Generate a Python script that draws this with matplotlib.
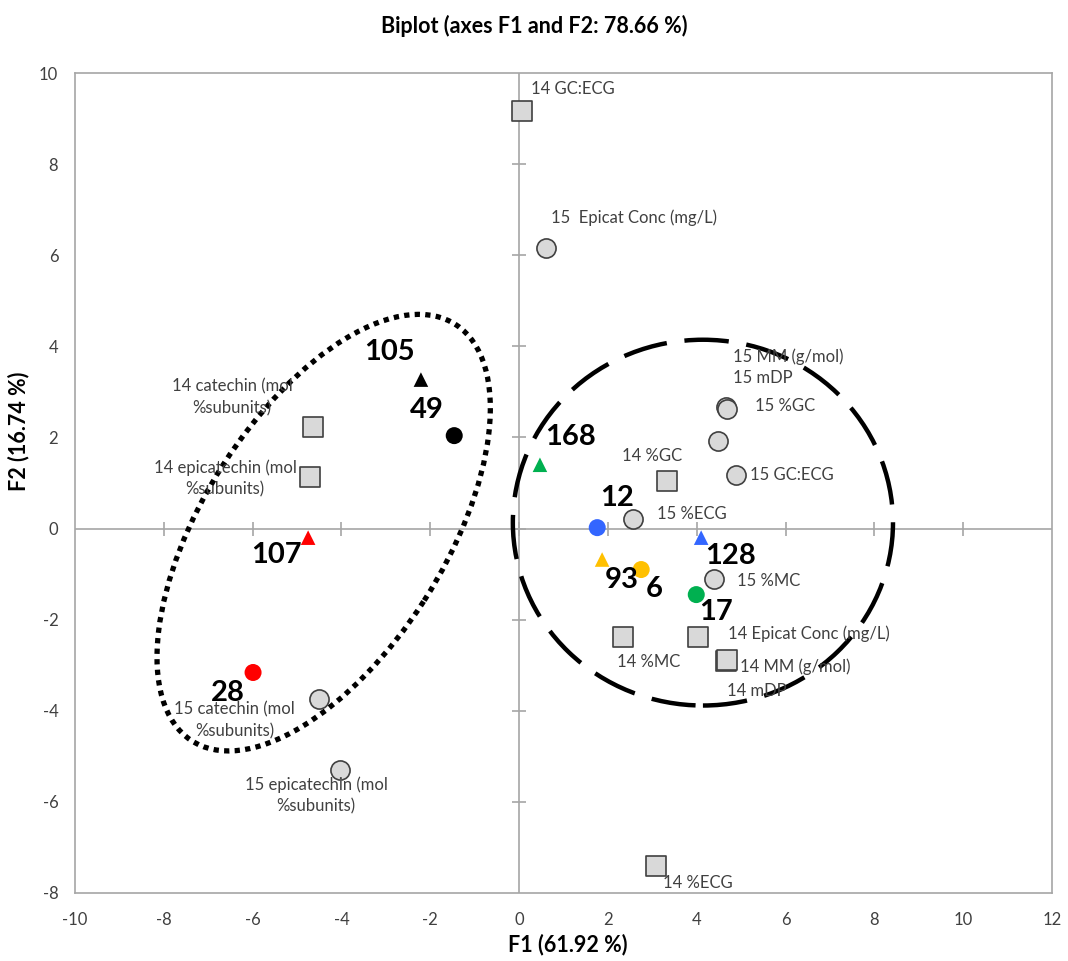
import matplotlib.pyplot as plt
from matplotlib.patches import Ellipse
import numpy as np

plt.rcParams['font.family'] = ['Lato', 'DejaVu Sans']

# variables, 2014 season (squares)
var14_names = ['14 GC:ECG', '14 catechin (mol\n%subunits)', '14 epicatechin (mol\n%subunits)',
               '14 %GC', '14 %MC', '14 Epicat Conc (mg/L)', '14 MM (g/mol)', '14 mDP', '14 %ECG']
var14_x = [0.07, -4.64, -4.71, 3.33, 2.34, 4.03, 4.66, 4.69, 3.09]
var14_y = [9.17, 2.24, 1.14, 1.05, -2.39, -2.39, -2.91, -2.88, -7.41]

# variables, 2015 season (circles)
var15_names = ['15  Epicat Conc (mg/L)', '15 MM (g/mol)', '15 mDP', '15 %GC', '15 GC:ECG',
               '15 %ECG', '15 %MC', '15 catechin (mol\n%subunits)', '15 epicatechin (mol\n%subunits)']
var15_x = [0.61, 4.66, 4.68, 4.48, 4.89, 2.57, 4.39, -4.50, -4.03]
var15_y = [6.16, 2.67, 2.63, 1.93, 1.18, 0.22, -1.10, -3.75, -5.29]

# observations
obs_names = ['105', '49', '168', '12', '128', '93', '6', '17', '107', '28']
obs_x = [-2.21, -1.46, 0.47, 1.76, 4.10, 1.87, 2.75, 3.99, -4.75, -5.99]
obs_y = [3.27, 2.04, 1.40, 0.02, -0.20, -0.68, -0.90, -1.45, -0.20, -3.16]
obs_marker = ['^', 'o', '^', 'o', '^', '^', 'o', 'o', '^', 'o']
obs_color = ['black', 'black', '#00B050', '#3366FF', '#3366FF', '#FFC000', '#FFC000',
             '#00B050', '#FF0000', '#FF0000']

# label anchor positions
var14_lab = [(0.27, 9.65, 'left'), (-6.46, 2.89, 'center'), (-6.62, 1.10, 'center'),
             (2.32, 1.60, 'left'), (2.21, -2.92, 'left'), (4.71, -2.30, 'left'),
             (4.98, -3.03, 'left'), (4.68, -3.57, 'left'), (3.24, -7.79, 'left')]
var15_lab = [(0.72, 6.82, 'left'), (4.82, 3.77, 'left'), (4.82, 3.31, 'left'),
             (5.32, 2.68, 'left'), (5.20, 1.18, 'left'), (3.11, 0.33, 'left'),
             (4.91, -1.16, 'left'), (-6.40, -4.21, 'center'), (-4.57, -5.86, 'center')]
obs_lab = [(-2.91, 3.88), (-2.07, 2.61), (1.15, 2.02), (2.21, 0.68), (4.77, -0.61),
           (2.32, -1.12), (3.04, -1.32), (4.44, -1.84), (-5.47, -0.59), (-6.55, -3.60)]

fig = plt.figure(figsize=(10.68, 9.61), dpi=100)
ax = fig.add_axes([0.0702, 0.0708, 0.9148, 0.8532])
ax.set_xlim(-10, 12)
ax.set_ylim(-8, 10)

for s in ax.spines.values():
    s.set_color('#A6A6A6')
    s.set_linewidth(1.2)

xt = np.arange(-10, 13, 2)
yt = np.arange(-8, 11, 2)
ax.set_xticks(xt)
ax.set_yticks(yt)
ax.set_xticklabels([str(v) for v in xt])
ax.set_yticklabels([str(v) for v in yt])
ax.tick_params(length=0, labelsize=12, colors='#404040', pad=14)
ax.tick_params(axis='y', pad=12)

# zero axes with cross ticks
ax.axhline(0, color='#A6A6A6', lw=1.2, zorder=1)
ax.axvline(0, color='#A6A6A6', lw=1.2, zorder=1)
ax.plot(xt[1:-1], np.zeros(len(xt) - 2), ls='none', marker='|', ms=10, mew=1.2, color='#A6A6A6', zorder=1)
ax.plot(np.zeros(len(yt) - 2), yt[1:-1], ls='none', marker='_', ms=10, mew=1.2, color='#A6A6A6', zorder=1)

# groupings
ax.add_patch(Ellipse((-4.40, -0.09), 10.9, 5.42, angle=56.7, fill=False, ec='black',
                     lw=3.8, ls=(0, (1, 1)), zorder=2))
ax.add_patch(Ellipse((4.14, 0.13), 8.56, 8.03, fill=False, ec='black',
                     lw=3.2, ls=(0, (10, 4)), zorder=2))

ax.scatter(var14_x, var14_y, marker='s', s=190, c='#D9D9D9', edgecolors='#404040', linewidths=1.2, zorder=3)
ax.scatter(var15_x, var15_y, marker='o', s=190, c='#D9D9D9', edgecolors='#404040', linewidths=1.2, zorder=3)

for x, y, m, c in zip(obs_x, obs_y, obs_marker, obs_color):
    ax.scatter(x, y, marker=m, s=150 if m == 'o' else 110, c=c, edgecolors='none', zorder=4)

for name, (lx, ly, ha) in zip(var14_names + var15_names, var14_lab + var15_lab):
    ax.text(lx, ly, name, ha=ha, va='center', fontsize=12, color='#404040',
            linespacing=1.45, zorder=5)

for name, (lx, ly) in zip(obs_names, obs_lab):
    ax.text(lx, ly, name, ha='center', va='center', fontsize=21, fontweight='bold',
            color='black', zorder=5)

fig.text(0.5, 0.973, 'Biplot (axes F1 and F2: 78.66 %)', ha='center', va='center',
         fontsize=15.5, fontweight='bold')
fig.text(0.532, 0.017, 'F1 (61.92 %)', ha='center', va='center', fontsize=15.5, fontweight='bold')
fig.text(0.017, 0.551, 'F2 (16.74 %)', ha='center', va='center', rotation=90,
         fontsize=15.5, fontweight='bold')

fig.savefig('out.png', dpi=100)
